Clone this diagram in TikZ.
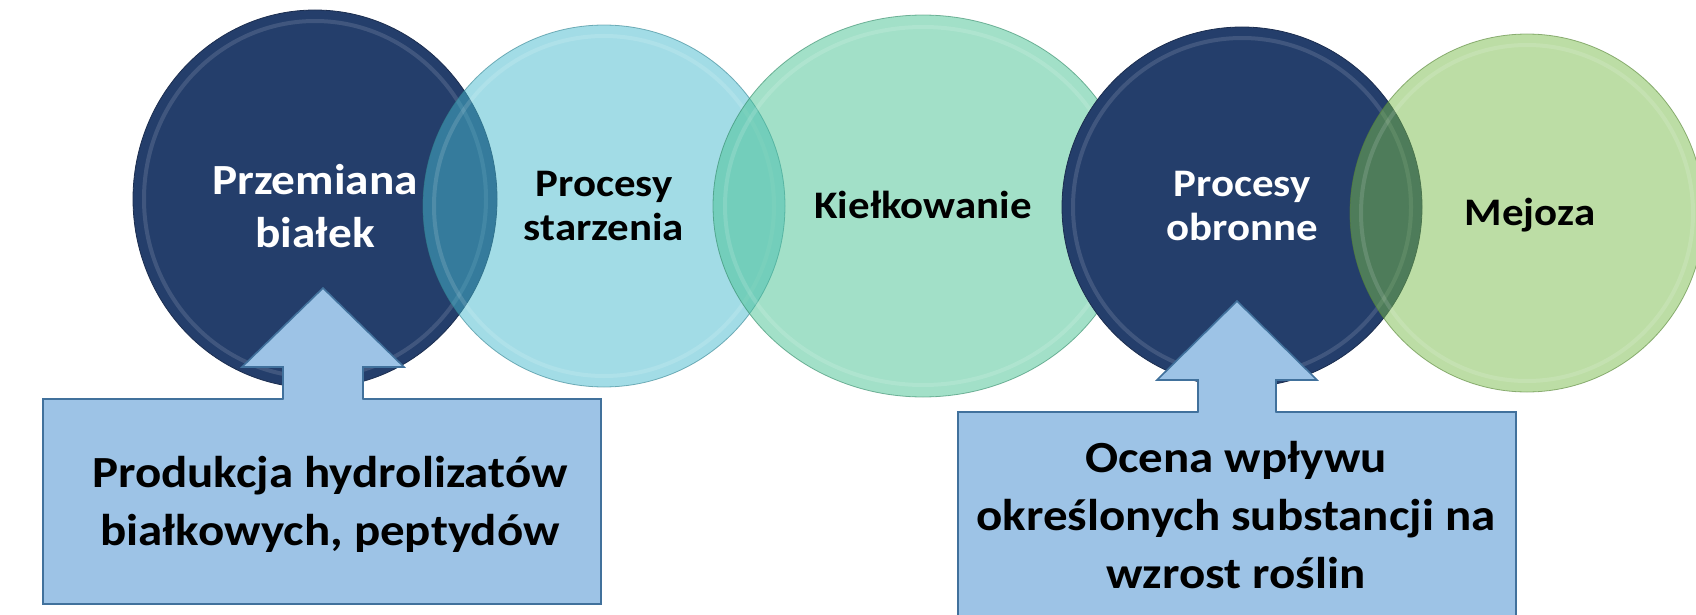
\documentclass[tikz,border=0pt]{standalone}
\usepackage{fontspec}
\setmainfont{Carlito}[FakeStretch=1.1]
\usetikzlibrary{shapes.geometric}
\definecolor{navy}{RGB}{36,62,107}
\definecolor{navyedge}{RGB}{28,46,80}
\definecolor{aqua}{RGB}{70,185,205}
\definecolor{mint}{RGB}{69,193,145}
\definecolor{leaf}{RGB}{121,187,75}
\definecolor{boxfill}{RGB}{157,195,230}
\definecolor{boxline}{RGB}{65,113,156}
\tikzset{
  bubble/.style={ellipse, inner sep=0pt, line width=0.8pt},
  solidbub/.style={bubble, fill=navy, draw=navyedge},
  glassbub/.style={bubble, fill=#1, fill opacity=0.5, draw=#1!70!black, draw opacity=0.6},
  ring/.style={draw=white, draw opacity=0.13, line width=4pt},
  lbl/.style={anchor=base, align=center, inner sep=0pt},
  bigtxt/.style={font={\fontsize{43}{53}\selectfont\bfseries}},
  midtxt/.style={font={\fontsize{39}{44}\selectfont\bfseries}},
  boxtxt/.style={font={\fontsize{44.5}{58}\selectfont\bfseries}},
  infobox/.style={rectangle, fill=boxfill, draw=boxline, line width=1.6pt, inner sep=0pt},
  arrowfill/.style={fill=boxfill},
  arrowline/.style={draw=boxline, line width=1.6pt, line join=miter},
}
\begin{document}
\begin{tikzpicture}[x=1pt,y=-1pt]
\useasboundingbox (0,0) rectangle (1696,615);
\clip (0,0) rectangle (1696,615);

% ellipses
\node[solidbub, minimum width=364pt, minimum height=378pt] (e1) at (315,199) {};
\draw[ring] (e1.center) ellipse [x radius=171pt, y radius=178pt];
\node[glassbub=aqua, minimum width=362pt, minimum height=362pt] (e2) at (604,206) {};
\draw[ring] (e2.center) ellipse [x radius=170pt, y radius=170pt];
\node[glassbub=mint, minimum width=420pt, minimum height=382pt] (e3) at (923,206) {};
\draw[ring] (e3.center) ellipse [x radius=198pt, y radius=179pt];
\node[solidbub, minimum width=360pt, minimum height=360pt] (e4) at (1242,207) {};
\draw[ring] (e4.center) ellipse [x radius=169pt, y radius=169pt];
\node[glassbub=leaf, minimum width=354pt, minimum height=358pt] (e5) at (1527,213) {};
\draw[ring] (e5.center) ellipse [x radius=166pt, y radius=168pt];

% ellipse labels (base = baseline of last line)
\node[lbl, bigtxt, text=white] (t1) at (315,247) {Przemiana\\białek};
\node[lbl, midtxt, text=black] (t2) at (604,240) {Procesy\\starzenia};
\node[lbl, midtxt, text=black] (t3) at (923,218) {Kiełkowanie};
\node[lbl, midtxt, text=white] (t4) at (1242,240) {Procesy\\obronne};
\node[lbl, midtxt, text=black] (t5) at (1530,225) {Mejoza};

% boxes
\node[infobox, minimum width=558pt, minimum height=205pt] (b1) at (322,501.5) {};
\node[infobox, minimum width=558pt, minimum height=228pt] (b2) at (1237,526) {};

% block arrows
\fill[arrowfill] (283,400) -- (283,367) -- (242,367) -- (323,288) -- (404,367) -- (363,367) -- (363,400) -- cycle;
\draw[arrowline] (283,399.5) -- (283,367) -- (242,367) -- (323,288) -- (404,367) -- (363,367) -- (363,399.5);
\fill[arrowfill] (1198,413) -- (1198,380) -- (1157,380) -- (1237,301) -- (1317,380) -- (1276,380) -- (1276,413) -- cycle;
\draw[arrowline] (1198,412.5) -- (1198,380) -- (1157,380) -- (1237,301) -- (1317,380) -- (1276,380) -- (1276,412.5);

% box labels
\node[lbl, boxtxt, text=black] (tb1) at (330,545) {Produkcja hydrolizatów\\białkowych, peptydów};
\node[lbl, boxtxt, text=black] (tb2) at (1236,588) {Ocena wpływu\\określonych substancji na\\wzrost roślin};
\end{tikzpicture}
\end{document}
